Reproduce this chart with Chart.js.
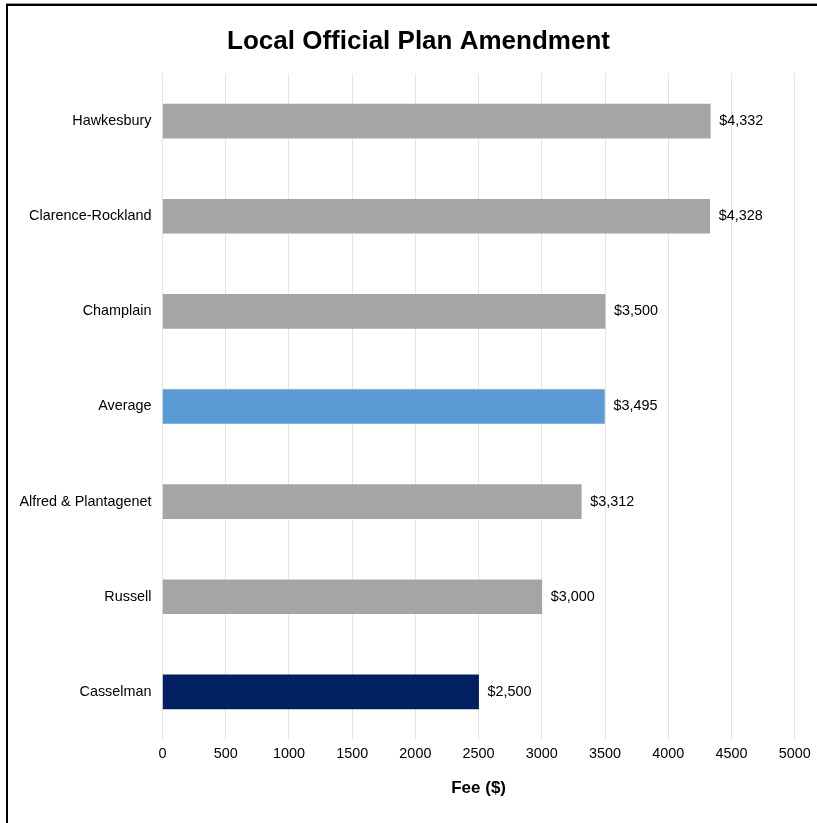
<!DOCTYPE html>
<html>
<head>
<meta charset="utf-8">
<title>Local Official Plan Amendment</title>
<script src="https://cdn.jsdelivr.net/npm/chart.js@4.4.1/dist/chart.umd.min.js"></script>
<style>
  html, body { margin: 0; padding: 0; background: #fff; }
  #wrap { position: relative; width: 817px; height: 823px; overflow: hidden; }
  #frame {
    position: absolute; left: 6px; top: 4px; right: -10px; bottom: -10px;
    border-top: 2px solid #000; border-left: 2px solid #000;
    box-shadow: 0 -1px 0 #9a9a9a; pointer-events: none;
  }
  canvas { position: absolute; left: 0; top: 0; }
</style>
</head>
<body>
<div id="wrap">
  <canvas id="chart" width="817" height="823"></canvas>
  <div id="frame"></div>
</div>
<script>
// Municipal fees for a local official plan amendment
const chartTitle = 'Local Official Plan Amendment';
const municipalities = ['Hawkesbury', 'Clarence-Rockland', 'Champlain', 'Average', 'Alfred & Plantagenet', 'Russell', 'Casselman'];
const fees = [4332, 4328, 3500, 3495, 3312, 3000, 2500];
const barColors = ['#a5a5a5', '#a5a5a5', '#a5a5a5', '#5b9bd5', '#a5a5a5', '#a5a5a5', '#002060'];
const xTicks = [0, 500, 1000, 1500, 2000, 2500, 3000, 3500, 4000, 4500, 5000];

const FONT = "'Liberation Sans', Arial, Helvetica, sans-serif";
const LABEL_SIZE = 14.4;

const money = v => '$' + v.toLocaleString('en-US');

// Writes each fee just past the end of its bar
const valueLabels = {
  id: 'valueLabels',
  afterDatasetsDraw(chart) {
    const ctx = chart.ctx;
    const meta = chart.getDatasetMeta(0);
    ctx.save();
    ctx.font = LABEL_SIZE + 'px ' + FONT;
    ctx.fillStyle = '#000';
    ctx.textAlign = 'left';
    ctx.textBaseline = 'middle';
    meta.data.forEach((bar, i) => {
      ctx.fillText(money(fees[i]), bar.x + 9, bar.y);
    });
    ctx.restore();
  }
};

// Heading centred over the framed page area
const heading = {
  id: 'heading',
  afterDraw(chart) {
    const ctx = chart.ctx;
    ctx.save();
    ctx.font = 'bold 26px ' + FONT;
    ctx.fillStyle = '#000';
    ctx.textAlign = 'center';
    ctx.textBaseline = 'middle';
    ctx.fillText(chartTitle, 418.5, 42);
    ctx.restore();
  }
};

new Chart(document.getElementById('chart'), {
  type: 'bar',
  data: {
    labels: municipalities,
    datasets: [{
      data: fees,
      backgroundColor: barColors,
      borderWidth: 0,
      barThickness: 34
    }]
  },
  options: {
    indexAxis: 'y',
    responsive: false,
    animation: false,
    events: [],
    layout: { padding: { left: 0, right: 22, top: 73.5, bottom: 0 } },
    plugins: {
      legend: { display: false },
      tooltip: { enabled: false },
      title: { display: false }
    },
    scales: {
      x: {
        type: 'linear',
        min: 0,
        max: 5000,
        afterBuildTicks: scale => { scale.ticks = xTicks.map(v => ({ value: v })); },
        afterFit: scale => { scale.height = 83.5; },
        grid: { color: '#e4e4e4', lineWidth: 1, drawTicks: false },
        border: { display: false },
        ticks: {
          color: '#000',
          padding: 6.3,
          maxRotation: 0,
          font: { family: FONT, size: LABEL_SIZE },
          callback: v => String(v)
        },
        title: {
          display: true,
          text: 'Fee ($)',
          color: '#000',
          font: { family: FONT, size: 17, weight: 'bold', lineHeight: 1.2 },
          padding: { top: 0, bottom: 24.8 }
        }
      },
      y: {
        afterFit: scale => { scale.width = 162.5; },
        grid: { display: false, drawTicks: false },
        border: { display: false },
        ticks: {
          color: '#000',
          padding: 11,
          font: { family: FONT, size: LABEL_SIZE }
        }
      }
    }
  },
  plugins: [valueLabels, heading]
});
</script>
</body>
</html>
